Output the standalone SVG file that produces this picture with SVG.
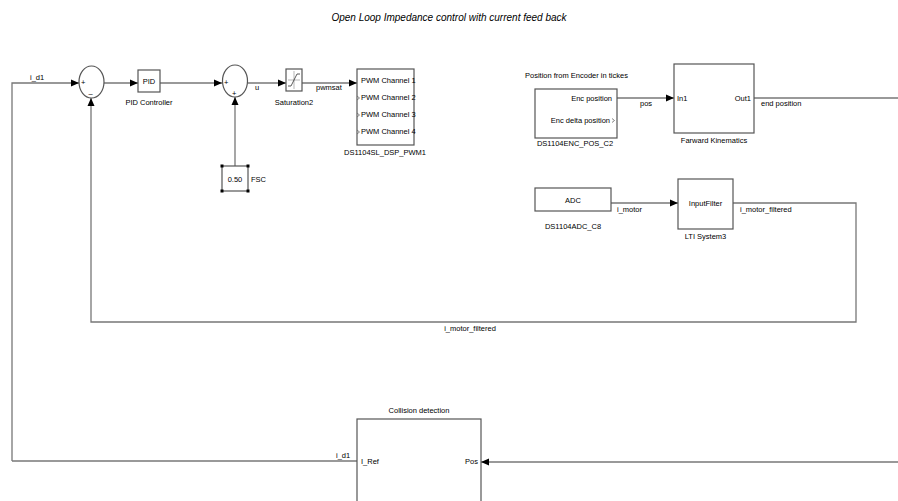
<svg xmlns="http://www.w3.org/2000/svg" width="898" height="501" viewBox="0 0 898 501">
<style>
text{font-family:"Liberation Sans",Arial,sans-serif;font-size:7.5px;fill:#000}
.t{font-size:10px;font-style:italic}
.blk{fill:#fff;stroke:#555;stroke-width:1.2}
.ln{fill:none;stroke:#777;stroke-width:1.3}
.m{text-anchor:middle}
.e{text-anchor:end}
.chev{fill:none;stroke:#666;stroke-width:0.8}
</style>
<defs>
<marker id="ah" viewBox="0 0 8 8" refX="8" refY="4" markerWidth="8" markerHeight="8" markerUnits="userSpaceOnUse" orient="auto">
<path d="M0,0.5 L8,4 L0,7.5 Z" fill="#000"/>
</marker>
</defs>
<text class="t m" x="449" y="21">Open Loop Impedance control with current feed back</text>

<g id="connectors">
<path class="ln" d="M12,461 L12,83 L79,83" marker-end="url(#ah)"/>
<text x="30" y="80">i_d1</text>
<path class="ln" d="M104,83 L138,83" marker-end="url(#ah)"/>
<path class="ln" d="M160,83 L222,83" marker-end="url(#ah)"/>
<path class="ln" d="M235,166 L235,97" marker-end="url(#ah)"/>
<path class="ln" d="M248,83 L286,83" marker-end="url(#ah)"/>
<text x="255" y="90">u</text>
<path class="ln" d="M302,83 L357,83" marker-end="url(#ah)"/>
<text x="316" y="90">pwmsat</text>
<path class="ln" d="M617,98 L674,98" marker-end="url(#ah)"/>
<text x="640" y="106">pos</text>
<path class="ln" d="M754,98 L898,98"/>
<text x="761" y="106">end position</text>
<path class="ln" d="M611,203 L678,203" marker-end="url(#ah)"/>
<text x="617" y="212">i_motor</text>
<path class="ln" d="M733,203 L856,203 L856,322 L91,322 L91,98" marker-end="url(#ah)"/>
<text x="740" y="212">i_motor_filtered</text>
<text class="m" x="470" y="331">i_motor_filtered</text>
<path class="ln" d="M12,461 L357,461"/>
<text x="336" y="458">i_d1</text>
<path class="ln" d="M898,462 L481,462" marker-end="url(#ah)"/>
</g>

<g id="sum1">
<ellipse class="blk" cx="91.5" cy="82" rx="12.5" ry="16"/>
<text x="81" y="85">+</text>
<text x="88.5" y="96">–</text>
</g>

<g id="pid">
<rect class="blk" x="138" y="70" width="22" height="22"/>
<text class="m" x="149" y="84">PID</text>
<text class="m" x="149" y="105">PID Controller</text>
</g>

<g id="sum2">
<ellipse class="blk" cx="235" cy="81" rx="12.5" ry="16"/>
<text x="224" y="85">+</text>
<text x="232" y="96">+</text>
</g>

<g id="fsc">
<rect class="blk" x="222" y="166" width="26" height="25"/>
<rect x="220.5" y="164.5" width="3" height="3" fill="#000"/>
<rect x="246.5" y="164.5" width="3" height="3" fill="#000"/>
<rect x="220.5" y="189.5" width="3" height="3" fill="#000"/>
<rect x="246.5" y="189.5" width="3" height="3" fill="#000"/>
<text class="m" x="235" y="181.5">0.50</text>
<text x="251" y="182">FSC</text>
</g>

<g id="saturation">
<rect class="blk" x="286" y="69" width="16" height="22"/>
<path d="M294,71 L294,89 M288,80 L300,80" fill="none" stroke="#999" stroke-width="0.7"/>
<path d="M288,86 L291,86 L297,74 L300,74" fill="none" stroke="#333" stroke-width="0.8"/>
<text class="m" x="294" y="105">Saturation2</text>
</g>

<g id="pwm">
<rect class="blk" x="357" y="69" width="57" height="76"/>
<text x="361" y="83">PWM Channel 1</text>
<text x="361" y="100">PWM Channel 2</text>
<text x="361" y="117">PWM Channel 3</text>
<text x="361" y="134">PWM Channel 4</text>
<path class="chev" d="M357,96 L359.5,98 L357,100 M357,113 L359.5,115 L357,117 M357,130 L359.5,132 L357,134"/>
<text class="m" x="385" y="155">DS1104SL_DSP_PWM1</text>
</g>

<g id="encoder">
<text x="525" y="78">Position from Encoder in tickes</text>
<rect class="blk" x="535" y="89" width="82" height="49"/>
<text class="e" x="612" y="101">Enc position</text>
<text class="e" x="610" y="123">Enc delta position</text>
<path class="chev" d="M612,118.5 L614.5,120.5 L612,122.5"/>
<text class="m" x="575" y="146">DS1104ENC_POS_C2</text>
</g>

<g id="kinematics">
<rect class="blk" x="674" y="64" width="80" height="69"/>
<text x="677" y="101">In1</text>
<text class="e" x="751" y="101">Out1</text>
<text class="m" x="714" y="143">Farward Kinematics</text>
</g>

<g id="adc">
<rect class="blk" x="535" y="188" width="76" height="23"/>
<text class="m" x="573" y="203">ADC</text>
<text class="m" x="573" y="229">DS1104ADC_C8</text>
</g>

<g id="inputfilter">
<rect class="blk" x="678" y="179" width="55" height="50"/>
<text class="m" x="705.5" y="206">InputFilter</text>
<text class="m" x="705.5" y="239">LTI System3</text>
</g>

<g id="collision">
<rect class="blk" x="357" y="419" width="124" height="100"/>
<text class="m" x="419" y="413">Collision detection</text>
<text x="361" y="464">I_Ref</text>
<text class="e" x="478" y="464">Pos</text>
</g>
</svg>
